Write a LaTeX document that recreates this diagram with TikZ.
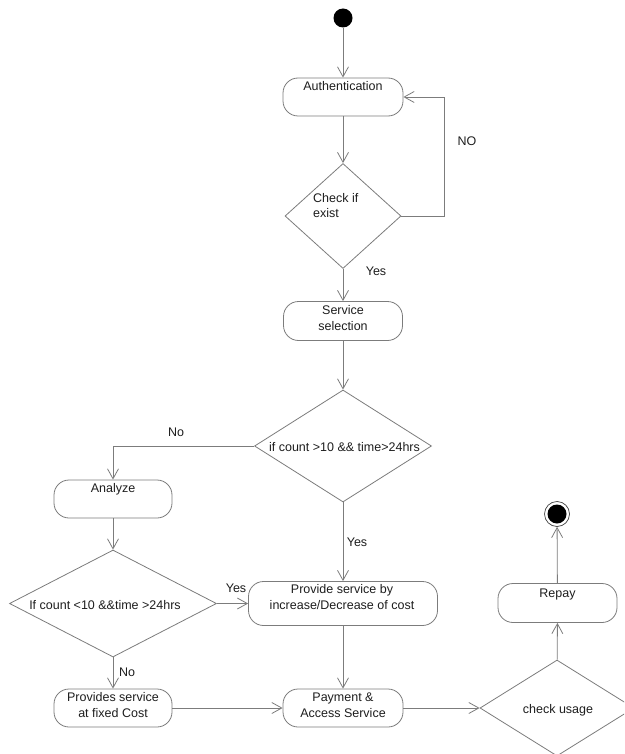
\documentclass[tikz,border=0pt]{standalone}
\usepackage{fontspec}
\setmainfont{Liberation Sans}
\usetikzlibrary{shapes.geometric,arrows.meta}
\definecolor{ln}{HTML}{7C7C7C}
\definecolor{tx}{HTML}{1E1E1E}
\begin{document}
\begin{tikzpicture}[x=1pt,y=-1pt,
  font=\fontsize{12.5}{16}\selectfont,
  act/.style={draw=ln, fill=white, rounded corners=15pt, line width=0.8pt, inner sep=0pt},
  dec/.style={draw=ln, fill=white, diamond, line width=0.8pt, inner sep=0pt},
  txt/.style={text=tx, inner sep=0pt, align=center},
  one/.style={txt, text height=9pt, text depth=0pt},
  flow/.style={draw=ln, line width=0.8pt, -{Straight Barb[length=10pt,width=11pt,line width=0.8pt]}},
  ]
\useasboundingbox (0,0) rectangle (624,754);
\clip (0,0) rectangle (624,754);

% shapes
\node[circle, fill=black, minimum size=19pt, inner sep=0pt] (start) at (343,18) {};
\node[act, minimum width=120pt, minimum height=38pt] (auth) at (343,97) {};
\node[dec, minimum width=116pt, minimum height=105pt] (chk) at (343,216) {};
\node[act, minimum width=119pt, minimum height=39pt] (svc) at (343,321) {};
\node[dec, minimum width=177pt, minimum height=112pt] (d1) at (343,446) {};
\node[act, minimum width=118pt, minimum height=38pt] (ana) at (113,499) {};
\node[dec, minimum width=207pt, minimum height=107pt] (d2) at (113,603.5) {};
\node[act, minimum width=189pt, minimum height=44pt] (prov) at (343,603.5) {};
\node[act, minimum width=118pt, minimum height=38pt] (fixed) at (113,708) {};
\node[act, minimum width=120pt, minimum height=38pt] (pay) at (343,708) {};
\node[dec, minimum width=154pt, minimum height=96pt] (chku) at (557,708) {};
\node[act, minimum width=119pt, minimum height=39pt] (repay) at (557.5,603) {};
\node[circle, draw=black!75, line width=0.7pt, fill=white, minimum size=25pt, inner sep=0pt] (endc) at (557,514) {};
\node[circle, fill=black, minimum size=19pt, inner sep=0pt] (endin) at (557,514) {};

% texts
\node[one] (authT) at (343,86) {Authentication};
\node[txt, align=left, anchor=west, font=\fontsize{12.5}{15}\selectfont] (chkT) at (313,205.5) {Check if\\exist};
\node[txt] (svcT) at (343,318.5) {Service\\selection};
\node[one] (d1T) at (344.5,447) {if count >10 \&\& time>24hrs};
\node[one] (anaT) at (113,488) {Analyze};
\node[one] (d2T) at (105,605) {If count <10 \&\&time >24hrs};
\node[txt] (provT) at (342,597.5) {Provide service by\\increase/Decrease of cost};
\node[txt] (fixedT) at (113,705) {Provides service\\at fixed Cost};
\node[txt] (payT) at (343,705) {Payment \&\\Access Service};
\node[one] (chkuT) at (558,709) {check usage};
\node[one] (repayT) at (557.5,593) {Repay};

% connectors
\draw[flow] (start) -- (auth);
\draw[flow] (auth) -- (chk);
\draw[flow] (chk.east) -- ++(43,0) |- (auth.east);
\draw[flow] (chk) -- (svc);
\draw[flow] (svc) -- (d1);
\draw[flow] (d1.west) -| (ana.north);
\draw[flow] (ana) -- (d2);
\draw[flow] (d1) -- (prov);
\draw[flow] (d2.east) -- (prov.west);
\draw[flow] (d2) -- (fixed);
\draw[flow] (fixed) -- (pay);
\draw[flow] (prov) -- (pay);
\draw[flow] (pay) -- (chku.west);
\draw[flow] (chku) -- (repay);
\draw[flow] (repay) -- (endc);

% labels
\node[one] (lNO) at (467,141) {NO};
\node[one] (lYes1) at (376,271) {Yes};
\node[one] (lNo1) at (176,432) {No};
\node[one] (lYes2) at (357,542) {Yes};
\node[one] (lYes3) at (236,588) {Yes};
\node[one] (lNo2) at (127,672) {No};
\end{tikzpicture}
\end{document}
